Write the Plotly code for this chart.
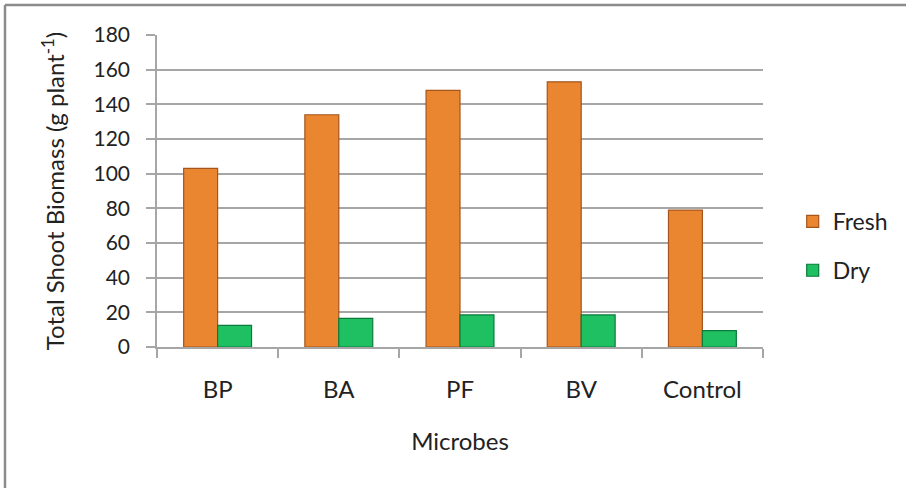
import plotly.graph_objects as go

categories = ["BP", "BA", "PF", "BV", "Control"]
fresh = [103, 134, 148, 153, 79]
dry = [12.5, 16.5, 18.5, 18.5, 9.5]
y_ticks = [0, 20, 40, 60, 80, 100, 120, 140, 160, 180]

FONT = "Lato, 'Open Sans', sans-serif"
GRID = "#A6A6A6"

fig = go.Figure()
fig.add_trace(go.Bar(
    x=categories, y=fresh, name="Fresh", legendgroup="f",
    marker=dict(color="#EA8530", line=dict(color="#A4561D", width=1.2)),
))
fig.add_trace(go.Bar(
    x=categories, y=dry, name="Dry", legendgroup="d",
    marker=dict(color="#1FC062", line=dict(color="#0B7A3A", width=1.2)),
))

L, R, T, B = 157, 763, 35, 347
W, H = 906, 488

fig.update_layout(
    width=W, height=H,
    margin=dict(l=L, r=W - R, t=T, b=H - B, autoexpand=False),
    paper_bgcolor="white", plot_bgcolor="white",
    barmode="group", bargap=0.44, bargroupgap=0,
    font=dict(family=FONT, size=21, color="#222222"),
    legend=dict(x=1.049, y=0.324, xanchor="left", yanchor="middle",
                font=dict(size=23), tracegroupgap=16,
                bgcolor="rgba(0,0,0,0)"),
    xaxis=dict(
        showline=True, linecolor=GRID, linewidth=1.5,
        ticks="outside", tickson="boundaries", ticklen=9,
        tickcolor=GRID, tickwidth=1.5,
        ticklabelstandoff=20,
        tickfont=dict(size=24),
        title=dict(text="Microbes", standoff=32, font=dict(size=24)),
    ),
    yaxis=dict(
        range=[0, 180], tickvals=y_ticks,
        showgrid=True, gridcolor=GRID, gridwidth=1.5,
        showline=True, linecolor=GRID, linewidth=1.5,
        ticks="outside", ticklen=9, tickcolor=GRID, tickwidth=1.5,
        ticklabelstandoff=12,
        tickfont=dict(size=21),
        zeroline=False,
        title=dict(text="Total Shoot Biomass (g plant<sup>-1</sup>)", standoff=22,
                   font=dict(size=24)),
    ),
)

# outer chart frame (top and left edges visible)
fx = (5 - L) / (R - L)
fy = (B - 5) / (B - T)
fig.add_shape(type="line", xref="paper", yref="paper", x0=fx, x1=(W + 10 - L) / (R - L),
              y0=fy, y1=fy, line=dict(color="#8C8C8C", width=2.5))
fig.add_shape(type="line", xref="paper", yref="paper", x0=fx, x1=fx,
              y0=fy, y1=(B - H - 10) / (B - T), line=dict(color="#8C8C8C", width=2.5))

fig.write_html("out.html", config={"displayModeBar": False},
               post_script="document.body.style.margin='0';")
